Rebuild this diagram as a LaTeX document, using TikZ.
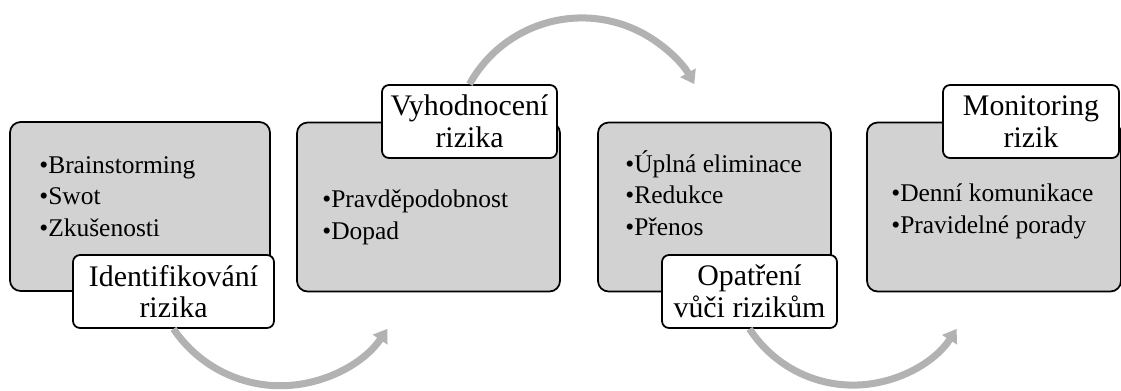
\documentclass[tikz,border=0pt]{standalone}
\usepackage{fontspec}
\setmainfont{Liberation Serif}
\usetikzlibrary{arrows.meta}
\definecolor{cardgray}{RGB}{210,210,210}
\definecolor{arcgray}{RGB}{178,178,178}

\begin{document}
\begin{tikzpicture}[x=0.02cm, y=-0.02cm,
  card/.style={draw=black, line width=1pt, fill=cardgray, rounded corners=6pt, minimum height=3.38cm},
  tag/.style={draw=black, line width=1pt, fill=white, rounded corners=4pt, minimum height=1.46cm, align=center, inner sep=0pt, font=\fontsize{17}{18}\selectfont},
  items/.style={anchor=base west, align=left, inner sep=0pt, font=\fontsize{14.5}{17.9}\selectfont},
  arcarrow/.style={arcgray, line width=4pt, -{Triangle[length=0.26cm, width=0.34cm]}}]
  \useasboundingbox (0,0) rectangle (1121,390);

  \node[card, minimum width=5.2cm] (c1) at (140,206.5) {};
  \node[card, minimum width=5.26cm] (c2) at (428.5,207) {};
  \node[card, minimum width=4.66cm] (c3) at (714.5,207) {};
  \node[card, minimum width=5.08cm] (c4) at (994,207) {};

  % base of a list = baseline of its last line
  \node[items] (t1) at (39,236) {\textbullet Brainstorming\\\textbullet Swot\\\textbullet Zkušenosti};
  \node[items] (t2) at (322,239) {\textbullet Pravděpodobnost\\\textbullet Dopad};
  \node[items] (t3) at (625,235) {\textbullet Úplná eliminace\\\textbullet Redukce\\\textbullet Přenos};
  \node[items] (t4) at (891,233) {\textbullet Denní komunikace\\\textbullet Pravidelné porady};

  \node[tag, minimum width=4.02cm] (l1) at (173.5,291.5) {Identifikování\\rizika};
  \node[tag, minimum width=3.5cm] (l2) at (469.5,121.5) {Vyhodnocení\\rizika};
  \node[tag, minimum width=3.5cm] (l3) at (749.5,291.5) {Opatření\\vůči rizikům};
  \node[tag, minimum width=3.52cm] (l4) at (1031,121.5) {Monitoring\\rizik};

  % arrows between the steps
  \draw[arcarrow] (l1.south) arc[start angle=214, end angle=326, radius=2.58cm];
  \draw[arcarrow] (l2.north) arc[start angle=151, end angle=29, radius=2.57cm];
  \draw[arcarrow] (l3.south) arc[start angle=213, end angle=327, radius=2.47cm];
\end{tikzpicture}
\end{document}
